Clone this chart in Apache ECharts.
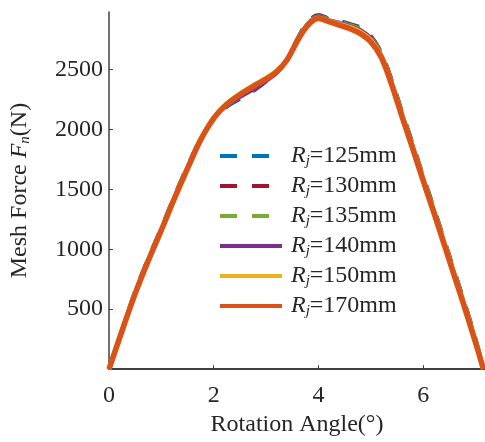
<!DOCTYPE html>
<html>

<head>
    <meta charset="utf-8">
    <title>Mesh Force</title>
    <script src="https://cdn.jsdelivr.net/npm/echarts@6/dist/echarts.min.js"></script>
    <style>
        html, body { margin: 0; padding: 0; background: #fff; }
    </style>
</head>

<body>
<div id="main" style="width: 485px;height:442px;"></div>
<script>
    // rotation angle (deg)
    var angle = [0, 0.25, 0.5, 0.75, 1, 1.25, 1.5, 1.75, 2, 2.25, 2.5, 2.75, 3, 3.2, 3.4, 3.6, 3.8, 4,
        4.2, 4.4, 4.6, 4.8, 5, 5.2, 5.4, 5.6, 5.8, 6, 6.2, 6.4, 6.6, 6.8, 7, 7.15];

    // mesh force for each Rj
    var f125 = [0, 330, 650, 925, 1180, 1445, 1695, 1920, 2085, 2190, 2255, 2320, 2400, 2470, 2590, 2760, 2900, 2955,
        2925, 2905, 2880, 2850, 2780, 2640, 2410, 2140, 1880, 1610, 1350, 1080, 810, 540, 250, 0];
    var f130 = [0, 328, 645, 920, 1175, 1440, 1690, 1918, 2087, 2195, 2262, 2325, 2405, 2472, 2588, 2755, 2895, 2950,
        2920, 2900, 2875, 2845, 2775, 2635, 2405, 2135, 1875, 1605, 1345, 1075, 805, 535, 245, 0];
    var f135 = [0, 326, 642, 917, 1172, 1437, 1687, 1916, 2089, 2198, 2268, 2330, 2410, 2475, 2586, 2752, 2890, 2945,
        2918, 2898, 2870, 2840, 2770, 2630, 2400, 2130, 1870, 1600, 1340, 1070, 800, 530, 240, 0];
    var f140 = [0, 322, 635, 910, 1165, 1430, 1680, 1915, 2090, 2200, 2270, 2332, 2405, 2470, 2582, 2748, 2885, 2940,
        2912, 2890, 2862, 2830, 2760, 2620, 2390, 2120, 1860, 1590, 1330, 1060, 790, 520, 235, 0];
    var f150 = [0, 321, 632, 907, 1162, 1427, 1677, 1914, 2095, 2215, 2295, 2365, 2428, 2488, 2585, 2745, 2875, 2930,
        2905, 2880, 2852, 2815, 2745, 2610, 2380, 2110, 1850, 1580, 1320, 1050, 780, 510, 228, 0];
    var f170 = [0, 320, 630, 905, 1160, 1425, 1675, 1913, 2093, 2210, 2290, 2357, 2420, 2480, 2580, 2740, 2870, 2925,
        2900, 2870, 2840, 2800, 2730, 2600, 2370, 2100, 1840, 1570, 1310, 1040, 770, 500, 220, 0];

    var names = ['125', '130', '135', '140', '150', '170'];
    var values = [f125, f130, f135, f140, f150, f170];
    var colors = ['#0072BD', '#A2142F', '#77AC30', '#7E2F8E', '#EDB120', '#D95319'];
    var widths = [4, 4, 4, 4, 5, 5.5];
    var dashed = [true, true, true, false, false, false];

    var font = 'Liberation Serif';
    var ink = '#262626';

    function pairs(ys) {
        return angle.map(function (x, i) { return [x, ys[i]]; });
    }

    var series = names.map(function (n, k) {
        return {
            name: n,
            type: 'line',
            data: pairs(values[k]),
            smooth: 0.35,
            symbol: 'none',
            z: 2 + k,
            lineStyle: {
                color: colors[k],
                width: widths[k],
                type: dashed[k] ? [17, 15] : 'solid'
            },
            itemStyle: { color: colors[k] }
        };
    });

    var sub = {
        i: { fontFamily: font, fontStyle: 'italic', fontSize: 24, color: ink },
        s: { fontFamily: font, fontStyle: 'italic', fontSize: 15, color: ink, verticalAlign: 'bottom', padding: [11, 0, 0, 0] },
        t: { fontFamily: font, fontSize: 24, color: ink }
    };
    var legendText = {
        i: { fontFamily: font, fontStyle: 'italic', fontSize: 24, color: ink, padding: [0, 0, 0, 4] },
        s: sub.s,
        t: sub.t
    };

    var myChart = echarts.init(document.getElementById('main'));

    var option = {
        animation: false,
        backgroundColor: '#fff',
        grid: { left: 105, top: 12, right: 0, bottom: 70 },
        legend: {
            orient: 'vertical',
            left: 213,
            top: 139,
            itemWidth: 62,
            itemHeight: 14,
            itemGap: 5,
            data: names,
            itemStyle: { opacity: 0 },
            lineStyle: { width: 4 },
            formatter: function (n) {
                return '{i|R}{s|j}{t|=' + n + 'mm}';
            },
            textStyle: { fontFamily: font, color: ink, rich: legendText }
        },
        xAxis: {
            type: 'value',
            min: 0,
            max: 7.18,
            interval: 2,
            name: 'Rotation Angle(°)',
            nameLocation: 'middle',
            nameGap: 40,
            nameTextStyle: { fontFamily: font, fontSize: 24, color: ink },
            axisLine: { show: true, lineStyle: { color: '#404040', width: 2 } },
            axisTick: { show: true, inside: true, length: 4, lineStyle: { color: '#404040' } },
            axisLabel: { fontFamily: font, fontSize: 24, color: ink, margin: 15, showMaxLabel: false },
            splitLine: { show: false }
        },
        yAxis: {
            type: 'value',
            min: 0,
            max: 2980,
            interval: 500,
            name: 'Mesh Force {i|F}{s|n}{t|(N)}',
            nameLocation: 'middle',
            nameGap: 76,
            nameTextStyle: { fontFamily: font, fontSize: 24, color: ink, rich: sub },
            axisLine: { show: true, lineStyle: { color: '#404040', width: 1.5 } },
            axisTick: { show: true, inside: true, length: 4, lineStyle: { color: '#404040' } },
            axisLabel: {
                fontFamily: font, fontSize: 24, color: ink, margin: 6,
                showMinLabel: false, showMaxLabel: false,
                formatter: function (v) { return String(v); }
            },
            splitLine: { show: false }
        },
        series: series
    };

    myChart.setOption(option);
</script>
</body>

</html>
